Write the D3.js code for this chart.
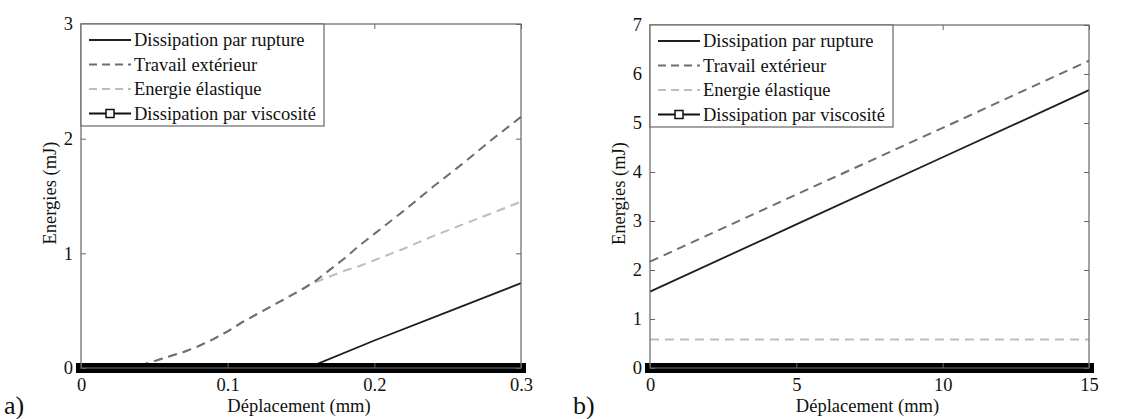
<!DOCTYPE html>
<html><head><meta charset="utf-8">
<script src="https://cdn.jsdelivr.net/npm/d3@7"></script>
<style>
body{margin:0;background:#fff;}
</style></head><body>
<svg id="chart" width="1124" height="419"></svg>
<script>
// ---- Panel a data ----
const xTicksA = [0, 0.1, 0.2, 0.3];
const yTicksA = [0, 1, 2, 3];
const ruptureXA = [0, 0.15, 0.16, 0.2, 0.25, 0.3];
const ruptureYA = [0, 0, 0.03, 0.24, 0.49, 0.74];
const curveXA = [0.04, 0.05, 0.06, 0.07, 0.08, 0.09, 0.10, 0.11, 0.12, 0.13, 0.14, 0.15, 0.16, 0.17, 0.18, 0.19, 0.20, 0.22, 0.24, 0.26, 0.28, 0.30];
const travailYA = [0.02, 0.06, 0.10, 0.14, 0.19, 0.25, 0.32, 0.40, 0.47, 0.54, 0.61, 0.68, 0.76, 0.86, 0.96, 1.07, 1.17, 1.37, 1.58, 1.78, 1.99, 2.19];
const elastiqueYA = [0.02, 0.06, 0.10, 0.14, 0.19, 0.25, 0.32, 0.40, 0.47, 0.54, 0.61, 0.68, 0.75, 0.80, 0.85, 0.89, 0.94, 1.04, 1.15, 1.25, 1.35, 1.45];
const viscXA = [0, 0.3];
const viscYA = [0, 0];

// ---- Panel b data ----
const xTicksB = [0, 5, 10, 15];
const yTicksB = [0, 1, 2, 3, 4, 5, 6, 7];
const lineXB = [0, 5, 10, 15];
const ruptureYB = [1.56, 2.93, 4.30, 5.67];
const travailYB = [2.17, 3.54, 4.90, 6.27];
const elastiqueYB = [0.58, 0.58, 0.58, 0.58];
const viscXB = [0, 15];
const viscYB = [0, 0];

const legendLabels = ["Dissipation par rupture", "Travail extérieur", "Energie élastique", "Dissipation par viscosité"];
const xTitle = "Déplacement (mm)";
const yTitle = "Energies  (mJ)";

const FONT = '"Liberation Serif"';
const FS = "18.5px";
const svg = d3.select("#chart");

const styles = {
  rupture: {stroke:"#1e1e1e", dash:null, width:1.8},
  travail: {stroke:"#6e6e6e", dash:"9,6", width:2},
  elastique: {stroke:"#bdbdbd", dash:"9,6", width:2}
};

function txt(sel) { return sel.style("font-family", FONT).style("fill", "#111"); }

function drawPanel(p) {
  const g = svg.append("g");
  const x = d3.scaleLinear().domain(p.xDomain).range([p.left, p.right]);
  const y = d3.scaleLinear().domain(p.yDomain).range([p.bottom, p.top]);
  const line = d3.line().x(d => x(d[0])).y(d => y(d[1]));

  const series = [
    {xs:p.rupX, ys:p.rupY, s:styles.rupture},
    {xs:p.curveX, ys:p.elaY, s:styles.elastique},
    {xs:p.curveX, ys:p.travY, s:styles.travail},
  ];
  series.forEach(se => {
    g.append("path").datum(se.xs.map((v,i)=>[v, se.ys[i]]))
      .attr("d", line).attr("fill","none")
      .attr("stroke", se.s.stroke).attr("stroke-width", se.s.width)
      .attr("stroke-dasharray", se.s.dash);
  });
  g.append("path").datum(p.viscX.map((v,i)=>[v, p.viscY[i]]))
    .attr("d", line).attr("fill","none").attr("stroke","#000")
    .attr("stroke-width", 10).attr("stroke-linecap","square");

  g.append("rect").attr("x", p.left).attr("y", p.top)
    .attr("width", p.right - p.left).attr("height", p.bottom - p.top)
    .attr("fill","none").attr("stroke","#666").attr("stroke-width",1.2);

  const fmt = d3.format("~g");
  const xAx = g.append("g").attr("transform", `translate(0,${p.bottom})`)
    .call(d3.axisBottom(x).tickValues(p.xTicks).tickSize(-5).tickPadding(10).tickFormat(fmt));
  const xAxT = g.append("g").attr("transform", `translate(0,${p.top})`)
    .call(d3.axisTop(x).tickValues(p.xTicks).tickSize(-5).tickFormat(""));
  const yAx = g.append("g").attr("transform", `translate(${p.left},0)`)
    .call(d3.axisLeft(y).tickValues(p.yTicks).tickSize(-5).tickPadding(8).tickFormat(fmt));
  const yAxR = g.append("g").attr("transform", `translate(${p.right},0)`)
    .call(d3.axisRight(y).tickValues(p.yTicks).tickSize(-5).tickFormat(""));
  [xAx, xAxT, yAx, yAxR].forEach(a => {
    a.attr("font-family", null);
    a.select(".domain").remove();
    a.selectAll(".tick line").attr("stroke","#666");
    txt(a.selectAll("text")).style("font-size", FS);
  });

  txt(g.append("text")).attr("x", (p.left + p.right)/2 - 2).attr("y", 412)
    .attr("text-anchor","middle").style("font-size",FS).text(xTitle);
  txt(g.append("text")).attr("transform", `translate(${p.left - 25},${(p.top+p.bottom)/2 - 3}) rotate(-90)`)
    .attr("text-anchor","middle").style("font-size",FS).text(yTitle);
  txt(g.append("text")).attr("x", p.tagX).attr("y", 414).style("font-size","26px").text(p.tag);

  const lx = p.left, ly = p.top;
  g.append("rect").attr("x", lx).attr("y", ly).attr("width", 243).attr("height", 102)
    .attr("fill","#fff").attr("stroke","#666").attr("stroke-width",1.2);
  const keys = [styles.rupture, styles.travail, styles.elastique, {stroke:"#111", dash:null, width:1.8}];
  keys.forEach((s, i) => {
    const yy = ly + 16 + i * 24.5;
    g.append("line").attr("x1", lx + 8).attr("x2", lx + 50).attr("y1", yy).attr("y2", yy)
      .attr("stroke", s.stroke).attr("stroke-width", s.width).attr("stroke-dasharray", s.dash ? "8,5" : null);
    if (i === 3) {
      g.append("rect").attr("x", lx + 25).attr("y", yy - 4).attr("width", 8).attr("height", 8)
        .attr("fill","#fff").attr("stroke","#111").attr("stroke-width",1.5);
    }
    txt(g.append("text")).attr("x", lx + 53).attr("y", yy + 6)
      .style("font-size",FS).text(legendLabels[i]);
  });
}

drawPanel({left:81, right:521, top:24, bottom:368, xDomain:[0,0.3], yDomain:[0,3],
  xTicks:xTicksA, yTicks:yTicksA,
  rupX:ruptureXA, rupY:ruptureYA, curveX:curveXA, travY:travailYA, elaY:elastiqueYA,
  viscX:viscXA, viscY:viscYA, tag:"a)", tagX:4});
drawPanel({left:650, right:1089, top:25, bottom:368, xDomain:[0,15], yDomain:[0,7],
  xTicks:xTicksB, yTicks:yTicksB,
  rupX:lineXB, rupY:ruptureYB, curveX:lineXB, travY:travailYB, elaY:elastiqueYB,
  viscX:viscXB, viscY:viscYB, tag:"b)", tagX:573});
</script>
</body></html>
